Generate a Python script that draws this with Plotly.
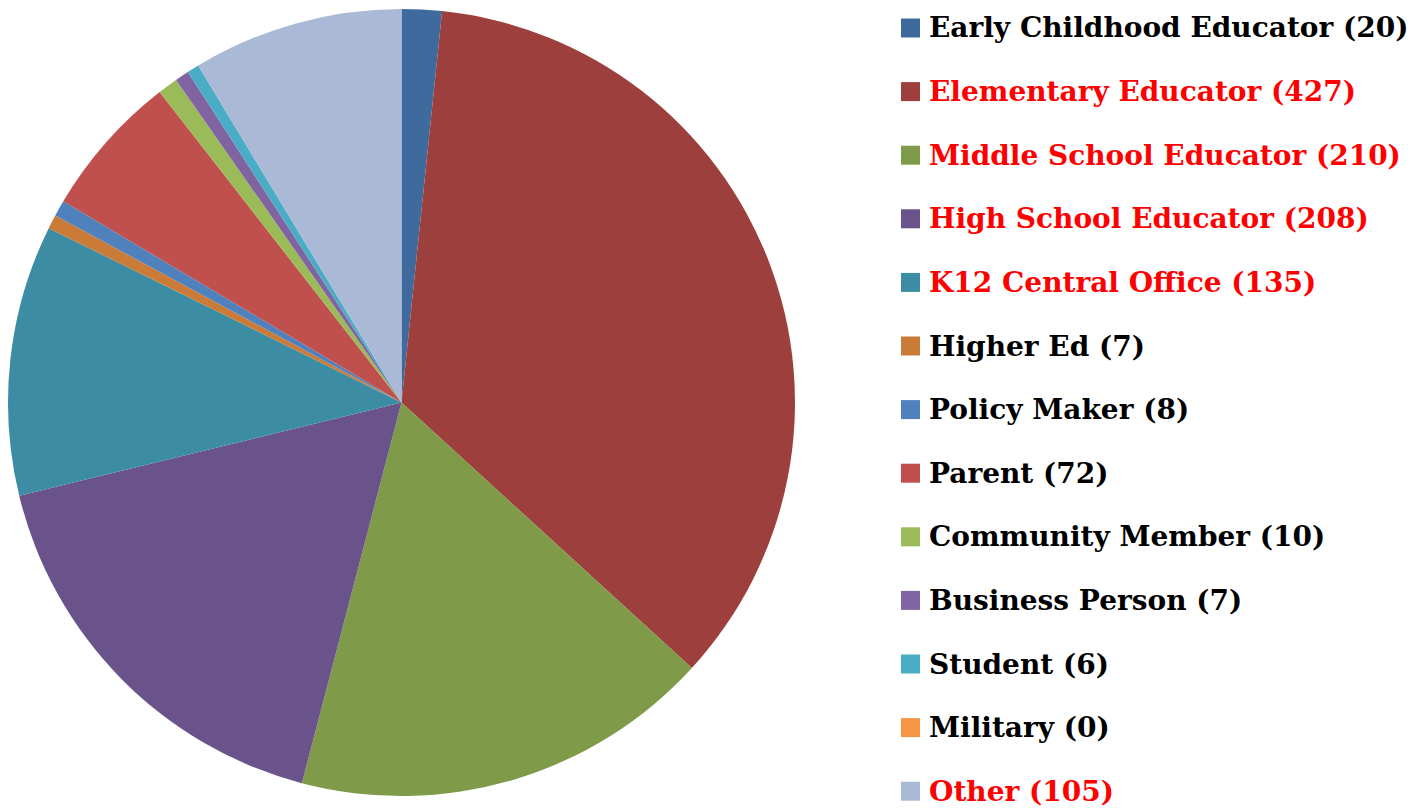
import plotly.graph_objects as go

categories = ["Early Childhood Educator", "Elementary Educator", "Middle School Educator",
              "High School Educator", "K12 Central Office", "Higher Ed", "Policy Maker",
              "Parent", "Community Member", "Business Person", "Student", "Military", "Other"]
counts = [20, 427, 210, 208, 135, 7, 8, 72, 10, 7, 6, 0, 105]
colors = ["#3E6A9E", "#9D403D", "#7F9A48", "#69538A", "#3C8DA3", "#CB7B38", "#4F81BD",
          "#C0504D", "#9BBB59", "#8064A2", "#4BACC6", "#F79646", "#AAB9D6"]
highlight = [False, True, True, True, True, False, False, False, False, False, False, False, True]

W, H = 1414, 810

fig = go.Figure()
fig.add_trace(go.Pie(
    labels=categories, values=counts, sort=False, direction="clockwise", rotation=0,
    marker=dict(colors=colors, line=dict(width=0)),
    textinfo="none", showlegend=False,
    domain=dict(x=[8 / W, 795 / W], y=[(H - 796) / H, (H - 9) / H]),
))

annotations = []
shapes = []
y0, step = 28, 63.6
for i, (cat, n, col, hl) in enumerate(zip(categories, counts, colors, highlight)):
    yc = y0 + i * step
    shapes.append(dict(type="rect", xref="paper", yref="paper",
                       x0=901 / W, x1=920 / W, y0=(H - yc - 9.5) / H, y1=(H - yc + 9.5) / H,
                       fillcolor=col, line=dict(width=0)))
    annotations.append(dict(xref="paper", yref="paper", x=927 / W, y=(H - yc) / H,
                            xanchor="left", yanchor="middle", showarrow=False,
                            text=f"<b>{cat} ({n})</b>",
                            font=dict(family="DejaVu Serif", size=28,
                                      color="#FF0000" if hl else "#000000")))

fig.update_layout(width=W, height=H, margin=dict(l=0, r=0, t=0, b=0),
                  paper_bgcolor="white", plot_bgcolor="white",
                  annotations=annotations, shapes=shapes)
fig.write_html("out.html")
